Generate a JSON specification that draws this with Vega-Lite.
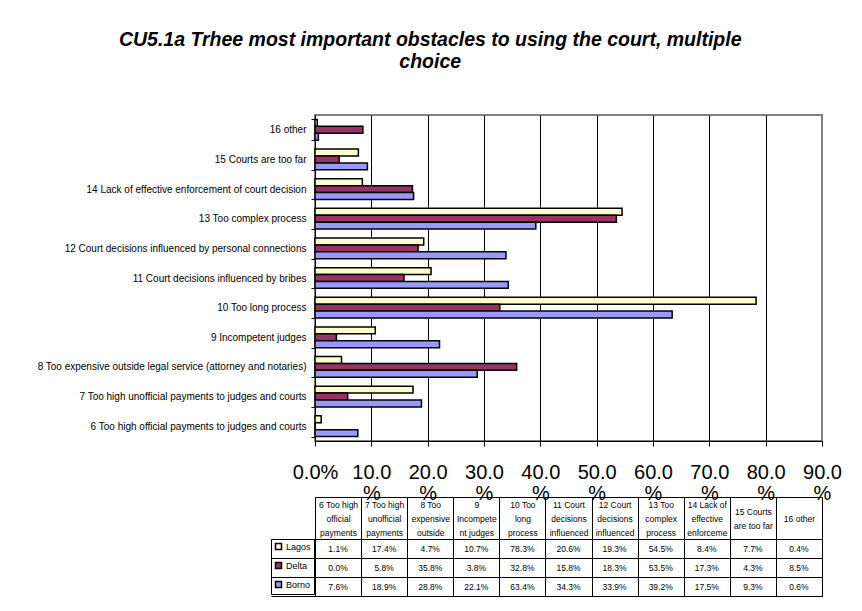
{
  "$schema": "https://vega.github.io/schema/vega-lite/v6.json",
  "background": "white",
  "padding": {"left": 35, "top": 29, "right": 5, "bottom": 5},
  "title": {
    "text": ["CU5.1a Trhee most important obstacles to using the court, multiple", "choice"],
    "fontSize": 19.5, "fontStyle": "italic", "fontWeight": "bold", "font": "Liberation Sans",
    "color": "black", "lineHeight": 22, "anchor": "middle", "offset": 37, "dx": -9
  },
  "datasets": {
    "d": [
      {"cat": "6 Too high official payments to judges and courts", "hdr": "6 Too high|official|payments", "region": "Lagos", "value": 1.1},
      {"cat": "6 Too high official payments to judges and courts", "hdr": "6 Too high|official|payments", "region": "Delta", "value": 0.0},
      {"cat": "6 Too high official payments to judges and courts", "hdr": "6 Too high|official|payments", "region": "Borno", "value": 7.6},
      {"cat": "7 Too high unofficial payments to judges and courts", "hdr": "7 Too high|unofficial|payments", "region": "Lagos", "value": 17.4},
      {"cat": "7 Too high unofficial payments to judges and courts", "hdr": "7 Too high|unofficial|payments", "region": "Delta", "value": 5.8},
      {"cat": "7 Too high unofficial payments to judges and courts", "hdr": "7 Too high|unofficial|payments", "region": "Borno", "value": 18.9},
      {"cat": "8 Too expensive outside legal service (attorney and notaries)", "hdr": "8 Too|expensive|outside", "region": "Lagos", "value": 4.7},
      {"cat": "8 Too expensive outside legal service (attorney and notaries)", "hdr": "8 Too|expensive|outside", "region": "Delta", "value": 35.8},
      {"cat": "8 Too expensive outside legal service (attorney and notaries)", "hdr": "8 Too|expensive|outside", "region": "Borno", "value": 28.8},
      {"cat": "9 Incompetent judges", "hdr": "9|Incompete|nt judges", "region": "Lagos", "value": 10.7},
      {"cat": "9 Incompetent judges", "hdr": "9|Incompete|nt judges", "region": "Delta", "value": 3.8},
      {"cat": "9 Incompetent judges", "hdr": "9|Incompete|nt judges", "region": "Borno", "value": 22.1},
      {"cat": "10 Too long process", "hdr": "10 Too|long|process", "region": "Lagos", "value": 78.3},
      {"cat": "10 Too long process", "hdr": "10 Too|long|process", "region": "Delta", "value": 32.8},
      {"cat": "10 Too long process", "hdr": "10 Too|long|process", "region": "Borno", "value": 63.4},
      {"cat": "11 Court decisions influenced by bribes", "hdr": "11 Court|decisions|influenced", "region": "Lagos", "value": 20.6},
      {"cat": "11 Court decisions influenced by bribes", "hdr": "11 Court|decisions|influenced", "region": "Delta", "value": 15.8},
      {"cat": "11 Court decisions influenced by bribes", "hdr": "11 Court|decisions|influenced", "region": "Borno", "value": 34.3},
      {"cat": "12 Court decisions influenced by personal connections", "hdr": "12 Court|decisions|influenced ", "region": "Lagos", "value": 19.3},
      {"cat": "12 Court decisions influenced by personal connections", "hdr": "12 Court|decisions|influenced ", "region": "Delta", "value": 18.3},
      {"cat": "12 Court decisions influenced by personal connections", "hdr": "12 Court|decisions|influenced ", "region": "Borno", "value": 33.9},
      {"cat": "13 Too complex process", "hdr": "13 Too|complex|process", "region": "Lagos", "value": 54.5},
      {"cat": "13 Too complex process", "hdr": "13 Too|complex|process", "region": "Delta", "value": 53.5},
      {"cat": "13 Too complex process", "hdr": "13 Too|complex|process", "region": "Borno", "value": 39.2},
      {"cat": "14 Lack of effective enforcement of court decision", "hdr": "14 Lack of|effective|enforceme", "region": "Lagos", "value": 8.4},
      {"cat": "14 Lack of effective enforcement of court decision", "hdr": "14 Lack of|effective|enforceme", "region": "Delta", "value": 17.3},
      {"cat": "14 Lack of effective enforcement of court decision", "hdr": "14 Lack of|effective|enforceme", "region": "Borno", "value": 17.5},
      {"cat": "15 Courts are too far", "hdr": "15 Courts|are too far", "region": "Lagos", "value": 7.7},
      {"cat": "15 Courts are too far", "hdr": "15 Courts|are too far", "region": "Delta", "value": 4.3},
      {"cat": "15 Courts are too far", "hdr": "15 Courts|are too far", "region": "Borno", "value": 9.3},
      {"cat": "16 other", "hdr": "16 other", "region": "Lagos", "value": 0.4},
      {"cat": "16 other", "hdr": "16 other", "region": "Delta", "value": 8.5},
      {"cat": "16 other", "hdr": "16 other", "region": "Borno", "value": 0.6}
    ]
  },
  "bounds": "flush",
  "spacing": 98,
  "resolve": {"legend": {"color": "independent"}},
  "vconcat": [
    {
      "width": 507,
      "height": 326,
      "data": {"name": "d"},
      "view": {"stroke": "#808080", "strokeWidth": 2},
      "mark": {"type": "bar", "stroke": "black", "strokeWidth": 1.5},
      "encoding": {
        "y": {
          "field": "cat", "type": "nominal",
          "sort": ["16 other", "15 Courts are too far", "14 Lack of effective enforcement of court decision", "13 Too complex process", "12 Court decisions influenced by personal connections", "11 Court decisions influenced by bribes", "10 Too long process", "9 Incompetent judges", "8 Too expensive outside legal service (attorney and notaries)", "7 Too high unofficial payments to judges and courts", "6 Too high official payments to judges and courts"],
          "scale": {"paddingInner": 0.3, "paddingOuter": 0.15},
          "axis": {"title": null, "labelFontSize": 10, "labelColor": "black", "labelPadding": 5, "tickSize": 4, "tickBand": "extent", "tickColor": "black", "domainColor": "black", "labelLimit": 400}
        },
        "yOffset": {"field": "region", "type": "nominal", "sort": ["Lagos", "Delta", "Borno"]},
        "x": {
          "field": "value", "type": "quantitative",
          "scale": {"domain": [0, 90], "nice": false},
          "axis": {
            "title": null, "values": [0, 10, 20, 30, 40, 50, 60, 70, 80, 90],
            "grid": true,
            "gridColor": {"condition": {"test": "datum.value == 90", "value": "#808080"}, "value": "black"},
            "gridOpacity": 1, "gridWidth": 1,
            "domainColor": "black", "tickColor": "black", "tickSize": 5,
            "labelFontSize": 20, "labelColor": "black", "labelPadding": 16, "labelLineHeight": 21,
            "labelFlush": false, "labelOverlap": false,
            "labelExpr": "datum.value == 0 ? '0.0%' : [format(datum.value, '.1f'), '%']"
          }
        },
        "color": {
          "field": "region", "type": "nominal",
          "scale": {"domain": ["Lagos", "Delta", "Borno"], "range": ["#FFFFCC", "#993366", "#9999FF"]},
          "legend": null
        }
      }
    },
    {
      "width": 507,
      "height": 57,
      "data": {"name": "d"},
      "view": {"stroke": "black", "strokeWidth": 1},
      "layer": [
        {
          "mark": {"type": "text", "fontSize": 8.5, "color": "black", "text": {"expr": "format(datum.value, '.1f') + '%'"}},
          "encoding": {
            "x": {
              "field": "hdr", "type": "nominal",
              "sort": ["6 Too high|official|payments", "7 Too high|unofficial|payments", "8 Too|expensive|outside", "9|Incompete|nt judges", "10 Too|long|process", "11 Court|decisions|influenced", "12 Court|decisions|influenced ", "13 Too|complex|process", "14 Lack of|effective|enforceme", "15 Courts|are too far", "16 other"],
              "scale": {"paddingInner": 0, "paddingOuter": 0},
              "axis": {
                "title": null, "orient": "top", "offset": 42, "tickSize": -42, "tickBand": "extent",
                "tickColor": "black", "domainColor": "black",
                "grid": true, "gridColor": "black", "gridOpacity": 1,
                "labelAngle": 0, "labelFontSize": 8.5, "labelColor": "black", "labelLineHeight": 14,
                "labelBaseline": "middle",
                "labelPadding": {"condition": [{"test": "datum.value == '16 other'", "value": 21}, {"test": "datum.value == '15 Courts|are too far'", "value": 28}], "value": 35},
                "labelOverlap": false,
                "labelExpr": "split(datum.label, '|')"
              }
            },
            "y": {
              "field": "region", "type": "nominal", "sort": ["Lagos", "Delta", "Borno"],
              "scale": {"paddingInner": 0, "paddingOuter": 0},
              "axis": {
                "title": null, "labels": false, "tickBand": "extent", "tickSize": 44,
                "tickColor": "black", "domainColor": "black", "grid": true, "gridColor": "black", "gridOpacity": 1
              }
            }
          }
        },
        {
          "mark": {"type": "square", "opacity": 0},
          "encoding": {
            "x": {"field": "hdr", "type": "nominal",
              "sort": ["6 Too high|official|payments", "7 Too high|unofficial|payments", "8 Too|expensive|outside", "9|Incompete|nt judges", "10 Too|long|process", "11 Court|decisions|influenced", "12 Court|decisions|influenced ", "13 Too|complex|process", "14 Lack of|effective|enforceme", "15 Courts|are too far", "16 other"]},
            "y": {"field": "region", "type": "nominal", "sort": ["Lagos", "Delta", "Borno"]},
            "color": {
              "field": "region", "type": "nominal",
              "scale": {"domain": ["Lagos", "Delta", "Borno"], "range": ["#FFFFCC", "#993366", "#9999FF"]},
              "legend": {
                "title": null, "orient": "none", "legendX": -44, "legendY": 0,
                "symbolType": "square", "symbolSize": 36, "symbolStrokeColor": "black", "symbolStrokeWidth": 1.5,
                "symbolOpacity": 1, "labelFontSize": 9, "labelColor": "black", "labelOffset": 3,
                "labelExpr": "datum.label + '  '",
                "rowPadding": 6, "padding": 3, "strokeColor": "black"
              }
            }
          }
        }
      ]
    }
  ],
  "config": {
    "font": "Liberation Sans",
    "view": {"stroke": null}
  }
}
